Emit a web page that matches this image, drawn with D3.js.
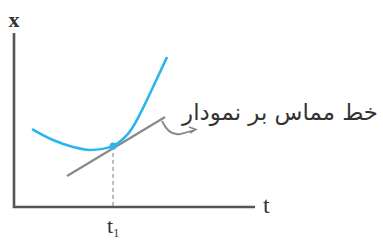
<!DOCTYPE html>
<html>
<meta charset="utf-8">
<style>
  body { margin: 0; background: #fff; }
  .axis { stroke: #555; stroke-width: 2.6; fill: none; }
  .curve { stroke: #29b5ee; stroke-width: 2.6; fill: none; }
  .tangent { stroke: #8a8a8a; stroke-width: 2.2; fill: none; }
  .drop { stroke: #777; stroke-width: 1; stroke-dasharray: 4 3; fill: none; }
  .serif { font-family: "Liberation Serif", "DejaVu Serif", serif; fill: #333; }
</style>

<body>
  <script src="https://d3js.org/d3.v7.min.js"></script>
  <script>
    let width = 383,
      height = 241;

    // curve points (t, x)
    let curveT = [7.5, 16.2, 24.5, 31.5, 41.1, 46.9, 51.0, 57.7, 63.5];
    let curveX = [44.8, 38.5, 34.5, 32.8, 35.1, 41.4, 50.0, 69.0, 86.2];

    // tangent line ends
    let tangentT = [22.0, 62.7];
    let tangentX = [17.8, 51.7];

    let t1 = 41.1, x1 = 35.1;
    let label = "خط مماس بر نمودار";

    let xScale = d3.scaleLinear().domain([0, 100]).range([14, 255]);
    let yScale = d3.scaleLinear().domain([0, 100]).range([207, 33]);

    let svg = d3.select("body").append("svg")
      .attr("width", width)
      .attr("height", height);

    // axes
    svg.append("path")
      .attr("class", "axis")
      .attr("d", `M${xScale(0)},${yScale(100)}V${yScale(0)}H${xScale(100)}`);

    svg.append("text").attr("class", "serif")
      .attr("x", xScale(0)).attr("y", 27)
      .attr("text-anchor", "middle")
      .attr("font-size", 22)
      .attr("font-weight", "bold")
      .text("x");

    svg.append("text").attr("class", "serif")
      .attr("x", 263).attr("y", 213)
      .attr("font-size", 24)
      .text("t");

    // dashed drop line
    svg.append("line")
      .attr("class", "drop")
      .attr("x1", xScale(t1)).attr("x2", xScale(t1))
      .attr("y1", yScale(x1)).attr("y2", yScale(0));

    let t1Label = svg.append("text").attr("class", "serif")
      .attr("x", xScale(t1) - 6).attr("y", 233)
      .attr("font-size", 22);
    t1Label.append("tspan").text("t");
    t1Label.append("tspan").attr("font-size", 12).attr("dy", 4).text("1");

    // tangent
    let line = d3.line()
      .x(d => xScale(d[0]))
      .y(d => yScale(d[1]));

    svg.append("path")
      .attr("class", "tangent")
      .attr("d", line(d3.zip(tangentT, tangentX)));

    // curve
    svg.append("path")
      .attr("class", "curve")
      .attr("d", line.curve(d3.curveCatmullRom)(d3.zip(curveT, curveX)));

    svg.append("circle")
      .attr("cx", xScale(t1)).attr("cy", yScale(x1))
      .attr("r", 3.5)
      .attr("fill", "#29b5ee");

    // pointer from label to tangent
    svg.append("path")
      .attr("d", "M162,121 Q169,136 180,134 L195,130")
      .attr("stroke", "#888").attr("stroke-width", 1.8).attr("fill", "none");
    svg.append("path")
      .attr("d", "M189,127 L196,129.5 L190,133")
      .attr("stroke", "#888").attr("stroke-width", 1.5).attr("fill", "none");

    let txt = svg.append("text")
      .attr("x", 378).attr("y", 120)
      .attr("text-anchor", "end")
      .attr("font-family", "DejaVu Sans, sans-serif")
      .attr("font-size", 20)
      .attr("fill", "#333")
      .text(label);
    let w = txt.node().getComputedTextLength();
    txt.attr("font-size", 20 * 196 / w);
  </script>
</body>

</html>
